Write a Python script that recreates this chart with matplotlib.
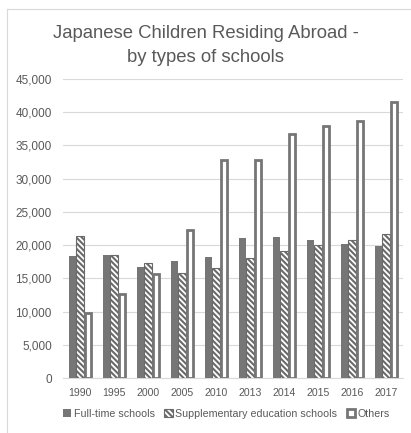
import matplotlib
matplotlib.use("Agg")
import matplotlib.pyplot as plt
from matplotlib.lines import Line2D
import numpy as np

plt.rcParams['font.family'] = ['Liberation Sans', 'DejaVu Sans']
plt.rcParams['hatch.linewidth'] = 1.5

years = ["1990", "1995", "2000", "2005", "2010", "2013", "2014", "2015", "2016", "2017"]
full_time = [18350, 18550, 16750, 17650, 18250, 21000, 21150, 20750, 20150, 19900]
supplementary = [21300, 18550, 17250, 15750, 16600, 18100, 19100, 20000, 20800, 21600]
others = [9850, 12700, 15600, 22300, 32850, 32850, 36650, 37950, 38700, 41500]

GRAY = "#767676"
TXT = "#595959"

fig = plt.figure(figsize=(4.11, 4.33), dpi=100)
ax = fig.add_axes([0.153, 0.127, 0.828, 0.691])

x = np.arange(len(years))
w = 0.22
ax.bar(x - w, full_time, w, color=GRAY, linewidth=0, label="Full-time schools", zorder=3)
ax.bar(x, supplementary, w, facecolor="white", edgecolor="#6a6a6a", hatch="\\" * 6,
       linewidth=0.8, label="Supplementary education schools", zorder=3)
ax.bar(x + w * 1.05, others, w * 0.8, facecolor="white", edgecolor=GRAY, linewidth=2.0,
       label="Others", zorder=3)

ax.set_ylim(0, 45000)
ax.set_xlim(-0.5, len(years) - 0.5)
ax.set_yticks(range(0, 45001, 5000))
ax.set_yticklabels([f"{v:,}" for v in range(0, 45001, 5000)])
ax.set_xticks(x)
ax.set_xticklabels(years)
ax.tick_params(axis="y", length=0, labelsize=8.5, colors=TXT, pad=8)
ax.tick_params(axis="x", length=0, labelsize=7.6, colors=TXT, pad=7)
ax.grid(axis="y", color="#d9d9d9", linewidth=0.8, zorder=0)
for s in ["top", "right", "left"]:
    ax.spines[s].set_visible(False)
ax.spines["bottom"].set_color("#d9d9d9")

fig.text(0.5, 0.895, "Japanese Children Residing Abroad -\nby types of schools",
         ha="center", va="center", fontsize=13.3, color=TXT, linespacing=1.5)

leg = ax.legend(loc="upper center", bbox_to_anchor=(0.48, -0.07), ncol=3, frameon=False,
                fontsize=7.7, handlelength=0.8, handleheight=0.8, handletextpad=0.2,
                columnspacing=0.9, labelcolor=TXT)

# chart area frame
fig.add_artist(Line2D([7 / 411, 7 / 411], [0, 1 - 9 / 433], transform=fig.transFigure,
                      color="#d9d9d9", linewidth=0.8))
fig.add_artist(Line2D([7 / 411, 1], [1 - 9 / 433, 1 - 9 / 433], transform=fig.transFigure,
                      color="#d9d9d9", linewidth=0.8))

fig.savefig("out.png", dpi=100)
